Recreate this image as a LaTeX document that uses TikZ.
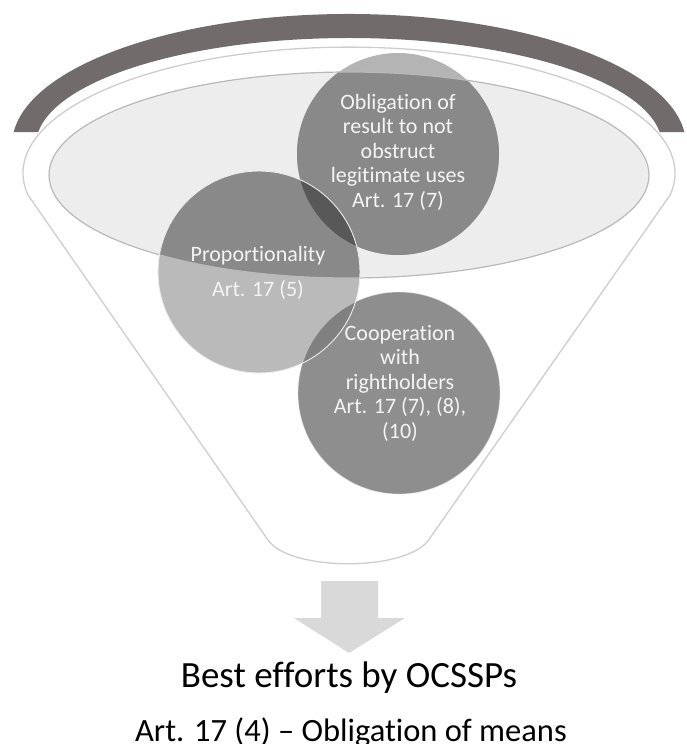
\documentclass[tikz,border=0pt]{standalone}
\usepackage{fontspec}
\setmainfont{Carlito}[Ligatures=CommonOff]
\definecolor{arcc}{RGB}{113,107,107}
\definecolor{rimc}{RGB}{205,205,205}
\definecolor{ellf}{RGB}{237,237,237}
\definecolor{elld}{RGB}{185,185,185}
\definecolor{cdark}{RGB}{137,137,137}
\definecolor{clight}{RGB}{186,186,186}
\definecolor{ccap}{RGB}{180,180,180}
\definecolor{cover}{RGB}{88,88,88}
\definecolor{coopc}{RGB}{142,142,142}
\definecolor{coopov}{RGB}{128,128,128}
\definecolor{arrowc}{RGB}{217,217,217}
\definecolor{ctext}{RGB}{244,244,244}
\tikzset{
  circtext/.style={text=ctext, align=center, font=\fontsize{22}{24.5}\selectfont, inner sep=0pt},
  circline/.style={draw=white!85!gray, line width=0.9pt},
}
\begin{document}
\begin{tikzpicture}[x=1pt,y=-1pt]
\useasboundingbox (0,0) rectangle (687,744);
% thick dark arc
\fill[arcc] (13.7,132) arc[start angle=185.69, end angle=354.31, x radius=337, y radius=131]
  -- (659.6,132) arc[start angle=353.02, end angle=186.98, x radius=313, y radius=107] -- cycle;
% funnel outline
\draw[rimc, line width=1.3pt, line join=round] (28,195) arc[start angle=170, end angle=370, x radius=326, y radius=126]
  -- (430,538) .. controls (410,572) and (290,572) .. (268,540) -- cycle;
% inner ellipse
\fill[ellf] (349,175) ellipse[x radius=300, y radius=103];
% circles, light parts
\fill[clight] (259,272) circle[radius=101];
\fill[ccap] (398,154) circle[radius=101];
\fill[coopc] (399,393) circle[radius=101];
% darker parts inside ellipse
\begin{scope}
  \clip (349,175) ellipse[x radius=300, y radius=103];
  \fill[cdark] (259,272) circle[radius=101];
  \fill[cdark] (398,154) circle[radius=101];
\end{scope}
% overlaps
\begin{scope}
  \clip (259,272) circle[radius=101];
  \fill[cover] (398,154) circle[radius=101];
  \fill[coopov] (399,393) circle[radius=101];
\end{scope}
% ellipse outline
\draw[elld, line width=1.2pt] (349,175) ellipse[x radius=300, y radius=103];
% circle outlines
\draw[circline] (259,272) circle[radius=101];
\draw[circline, draw opacity=0.4] (399,393) circle[radius=101];
% texts
\node[circtext] (t1) at (398,152) {Obligation of\\result to not\\obstruct\\legitimate uses\\Art. 17 (7)};
\node[circtext] (t2) at (258,273) {Proportionality\\[10pt]Art. 17 (5)};
\node[circtext] (t3) at (400,383) {Cooperation\\with\\rightholders\\Art. 17 (7), (8),\\(10)};
% arrow
\fill[arrowc] (321,581) -- (378,581) -- (378,618) -- (405,618) -- (349,653) -- (294,618) -- (321,618) -- cycle;
% bottom texts
\node[anchor=base, inner sep=0pt, font=\fontsize{37}{42}\selectfont] (b1) at (349,687) {Best efforts by OCSSPs};
\node[anchor=base, inner sep=0pt, font=\fontsize{32.5}{38}\selectfont] (b2) at (351,741) {Art. 17 (4) – Obligation of means};
\end{tikzpicture}
\end{document}
